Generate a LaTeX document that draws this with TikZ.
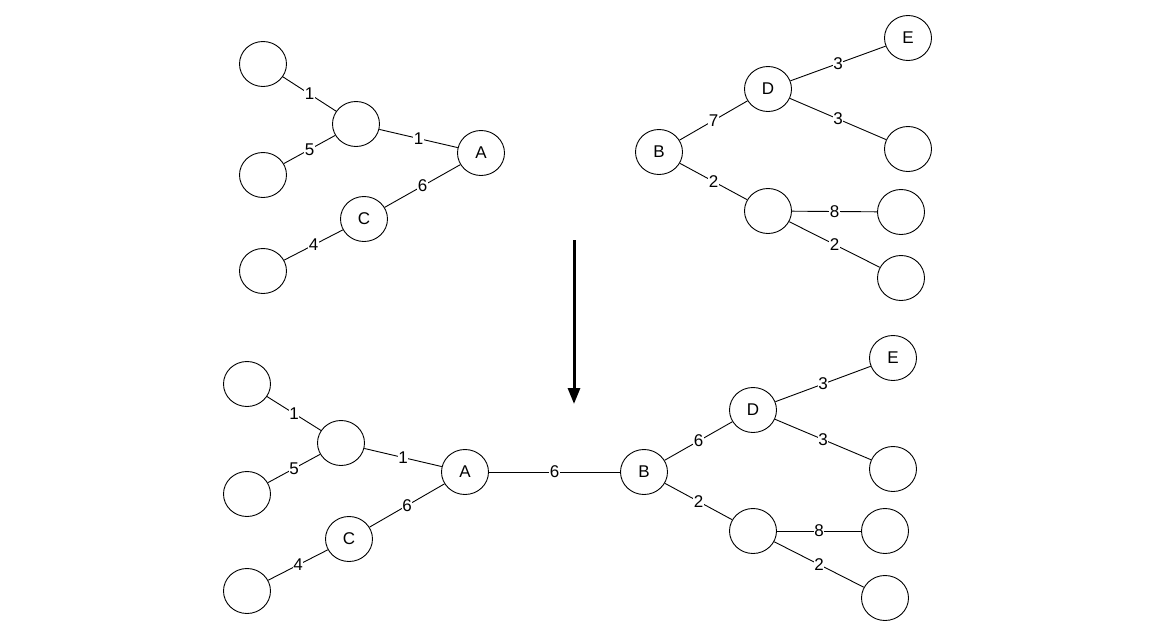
\documentclass[tikz,border=0pt]{standalone}
\usepackage{fontspec}
\setmainfont{Liberation Sans}
\usetikzlibrary{arrows.meta,shapes.geometric}

\newcommand{\lblfont}{\fontsize{17pt}{20pt}\selectfont}

\begin{document}
\begin{tikzpicture}[
  x=1pt, y=1pt,
  vert/.style={ellipse, draw=black, line width=0.9pt, fill=white,
               minimum width=47pt, minimum height=45pt, inner sep=0pt,
               font=\lblfont},
  edge/.style={draw=black, line width=0.9pt},
  wt/.style={midway, fill=white, inner sep=0.3pt, font=\lblfont},
  merge/.style={-{Triangle[length=16pt,width=12pt]}, line width=3pt},
]
\useasboundingbox (0,0) rectangle (1149,-621);

% Top row: two separate trees
\node[vert] (tl1) at (263,-64)  {};
\node[vert] (tm)  at (356,-124) {};
\node[vert] (tl2) at (263,-175) {};
\node[vert] (tA)  at (481,-153) {A};
\node[vert] (tC)  at (364,-219) {C};
\node[vert] (tl3) at (263,-271) {};

\node[vert] (tB)  at (659,-152) {B};
\node[vert] (tD)  at (768,-89)  {D};
\node[vert] (tE)  at (908,-38)  {E};
\node[vert] (tr1) at (908,-149) {};
\node[vert] (th)  at (768,-211) {};
\node[vert] (tr2) at (901,-212) {};
\node[vert] (tr3) at (901,-278) {};

\draw[edge] (tl1) -- node[wt] {1} (tm);
\draw[edge] (tl2) -- node[wt] {5} (tm);
\draw[edge] (tm)  -- node[wt] {1} (tA);
\draw[edge] (tC)  -- node[wt] {6} (tA);
\draw[edge] (tl3) -- node[wt] {4} (tC);
\draw[edge] (tB)  -- node[wt] {7} (tD);
\draw[edge] (tD)  -- node[wt] {3} (tE);
\draw[edge] (tD)  -- node[wt] {3} (tr1);
\draw[edge] (tB)  -- node[wt] {2} (th);
\draw[edge] (th)  -- node[wt] {8} (tr2);
\draw[edge] (th)  -- node[wt] {2} (tr3);

% Merge arrow
\coordinate (arrtop) at (574,-240);
\coordinate (arrbot) at (574,-404);
\draw[merge] (arrtop) -- (arrbot);

% Bottom row: joined tree
\node[vert] (bl1) at (247,-384) {};
\node[vert] (bm)  at (341,-443) {};
\node[vert] (bl2) at (247,-494) {};
\node[vert] (bA)  at (465,-472) {A};
\node[vert] (bC)  at (349,-539) {C};
\node[vert] (bl3) at (247,-591) {};

\node[vert] (bB)  at (644,-472) {B};
\node[vert] (bD)  at (753,-410) {D};
\node[vert] (bE)  at (893,-358) {E};
\node[vert] (br1) at (893,-469) {};
\node[vert] (bh)  at (753,-531) {};
\node[vert] (br2) at (885,-531) {};
\node[vert] (br3) at (885,-598) {};

\draw[edge] (bl1) -- node[wt] {1} (bm);
\draw[edge] (bl2) -- node[wt] {5} (bm);
\draw[edge] (bm)  -- node[wt] {1} (bA);
\draw[edge] (bC)  -- node[wt] {6} (bA);
\draw[edge] (bl3) -- node[wt] {4} (bC);
\draw[edge] (bA)  -- node[wt] {6} (bB);
\draw[edge] (bB)  -- node[wt] {6} (bD);
\draw[edge] (bD)  -- node[wt] {3} (bE);
\draw[edge] (bD)  -- node[wt] {3} (br1);
\draw[edge] (bB)  -- node[wt] {2} (bh);
\draw[edge] (bh)  -- node[wt] {8} (br2);
\draw[edge] (bh)  -- node[wt] {2} (br3);
\end{tikzpicture}
\end{document}
